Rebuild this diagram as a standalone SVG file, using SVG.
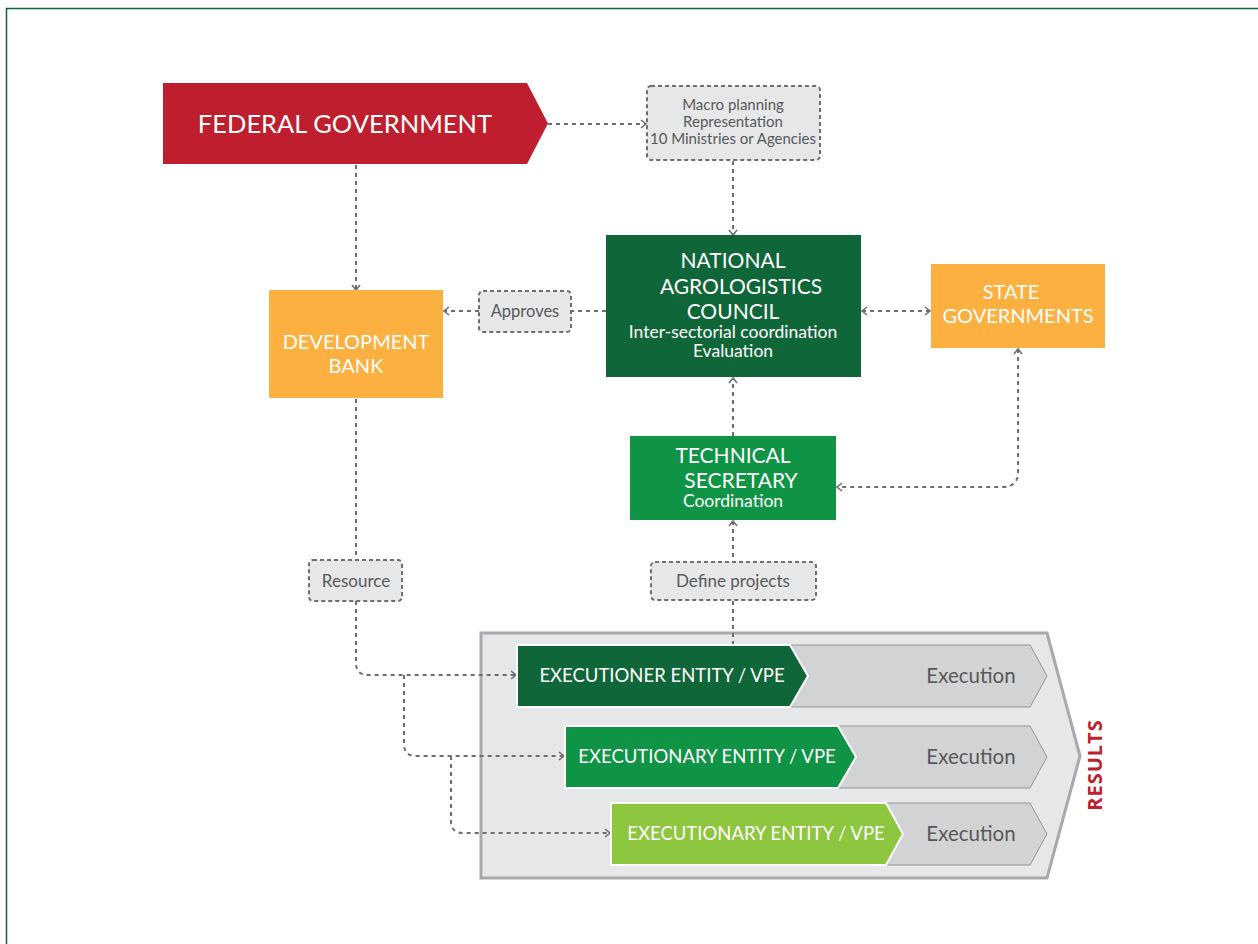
<svg xmlns="http://www.w3.org/2000/svg" width="1258" height="944" viewBox="0 0 1258 944">
<defs>
<marker id="ah" viewBox="0 0 10 10" refX="9" refY="5" markerWidth="10" markerHeight="10" markerUnits="userSpaceOnUse" orient="auto-start-reverse">
<path d="M4,1 L9,5 L4,9" fill="none" stroke="#6d6e71" stroke-width="1.6"/>
</marker>
<style>
.t{font-family:Lato,"Open Sans","Liberation Sans",sans-serif;fill:#fff;text-anchor:middle}
.g{font-family:Lato,"Open Sans","Liberation Sans",sans-serif;fill:#58595b;text-anchor:middle}
.c{fill:none;stroke:#6d6e71;stroke-width:2;stroke-dasharray:4 4}
.lbl{fill:#e6e7e8;stroke:#6d6e71;stroke-width:2;stroke-dasharray:4 3}
.gr{fill:#d1d3d4;stroke:#939598;stroke-width:1}
.ent{stroke:#fff;stroke-width:2}
</style>
</defs>
<rect x="6.5" y="8.5" width="1260" height="960" fill="#fff" stroke="#0f6638" stroke-width="1.5"/>

<g id="results">
<polygon points="481,633 1047,633 1080,756 1047,878 481,878" fill="#e6e7e8" stroke="#a7a9ac" stroke-width="3"/>
<text x="1097" y="765" transform="rotate(-90 1097 765)" style="font-family:'Open Sans','Liberation Sans',sans-serif;font-weight:bold;font-size:20px;fill:#be1e2d;text-anchor:middle;dominant-baseline:middle;letter-spacing:1px">RESULTS</text>
</g>

<g id="connectors">
<line class="c" x1="548" y1="124" x2="646" y2="124" marker-end="url(#ah)"/>
<line class="c" x1="733" y1="161" x2="733" y2="235" marker-end="url(#ah)"/>
<line class="c" x1="356" y1="165" x2="356" y2="290" marker-end="url(#ah)"/>
<line class="c" x1="606" y1="311" x2="571" y2="311"/>
<line class="c" x1="479" y1="311" x2="444" y2="311" marker-end="url(#ah)"/>
<line class="c" x1="862" y1="311" x2="930" y2="311" marker-start="url(#ah)" marker-end="url(#ah)"/>
<path class="c" d="M1018,349 V472 Q1018,487 1003,487 H837" marker-start="url(#ah)" marker-end="url(#ah)"/>
<line class="c" x1="733" y1="436" x2="733" y2="378" marker-end="url(#ah)"/>
<line class="c" x1="733" y1="645" x2="733" y2="521" marker-end="url(#ah)"/>
<line class="c" x1="356" y1="399" x2="356" y2="560"/>
<path class="c" d="M356,601 V663 Q356,675 368,675 H516" marker-end="url(#ah)"/>
<path class="c" d="M404,675 V744 Q404,756 416,756 H564" marker-end="url(#ah)"/>
<path class="c" d="M451,756 V821 Q451,833 463,833 H610" marker-end="url(#ah)"/>
</g>

<g id="federal">
<polygon points="163,83 527,83 548,123.5 527,164 163,164" fill="#be1e2d"/>
<text class="t" x="345" y="133" style="font-size:25.5px">FEDERAL GOVERNMENT</text>
</g>

<g id="macro">
<rect class="lbl" x="647" y="86" width="173" height="74" rx="4"/>
<text class="g" x="733" y="110" style="font-size:15px">Macro planning</text>
<text class="g" x="733" y="127" style="font-size:15px">Representation</text>
<text class="g" x="733" y="144" style="font-size:15px">10 Ministries or Agencies</text>
</g>

<g id="council">
<rect x="606" y="235" width="255" height="142" fill="#0f6638"/>
<text class="t" x="733" y="268" style="font-size:21px">NATIONAL</text>
<text class="t" x="741" y="294" style="font-size:21px">AGROLOGISTICS</text>
<text class="t" x="733" y="319" style="font-size:21px">COUNCIL</text>
<text class="t" x="733" y="338" style="font-size:17.5px">Inter-sectorial coordination</text>
<text class="t" x="733" y="357" style="font-size:17.5px">Evaluation</text>
</g>

<g id="state">
<rect x="931" y="264" width="174" height="84" fill="#fbb040"/>
<text class="t" x="1011" y="299" style="font-size:20px">STATE</text>
<text class="t" x="1018" y="323" style="font-size:20px">GOVERNMENTS</text>
</g>

<g id="devbank">
<rect x="269" y="290" width="174" height="108" fill="#fbb040"/>
<text class="t" x="356" y="349" style="font-size:20px">DEVELOPMENT</text>
<text class="t" x="356" y="373" style="font-size:20px">BANK</text>
</g>

<g id="approves">
<rect class="lbl" x="479" y="291" width="92" height="41" rx="4"/>
<text class="g" x="525" y="317" style="font-size:16.5px">Approves</text>
</g>

<g id="techsec">
<rect x="630" y="436" width="206" height="84" fill="#0f9345"/>
<text class="t" x="733" y="463" style="font-size:21px">TECHNICAL</text>
<text class="t" x="741" y="488" style="font-size:21px">SECRETARY</text>
<text class="t" x="733" y="507" style="font-size:17.5px">Coordination</text>
</g>

<g id="resource">
<rect class="lbl" x="309" y="560" width="93" height="41" rx="4"/>
<text class="g" x="356" y="587" style="font-size:17px">Resource</text>
</g>

<g id="define">
<rect class="lbl" x="651" y="562" width="165" height="38" rx="4"/>
<text class="g" x="733" y="587" style="font-size:17px">Define projects</text>
</g>

<g id="exec1">
<polygon class="gr" points="780,645 1030,645 1047,676 1030,707 780,707"/>
<polygon class="ent" points="517,645 790,645 808,676 790,707 517,707" fill="#0f6638"/>
<text class="t" x="662" y="682" style="font-size:18.5px">EXECUTIONER ENTITY / VPE</text>
<text class="g" x="971" y="683" style="font-size:20.5px">Execution</text>
</g>

<g id="exec2">
<polygon class="gr" points="828,726 1030,726 1047,757 1030,788 828,788"/>
<polygon class="ent" points="565,726 838,726 856,757 838,788 565,788" fill="#0f9345"/>
<text class="t" x="707" y="763" style="font-size:18.5px">EXECUTIONARY ENTITY / VPE</text>
<text class="g" x="971" y="764" style="font-size:20.5px">Execution</text>
</g>

<g id="exec3">
<polygon class="gr" points="876,803 1030,803 1047,834 1030,865 876,865"/>
<polygon class="ent" points="611,803 886,803 903,834 886,865 611,865" fill="#8dc63f"/>
<text class="t" x="756" y="840" style="font-size:18.5px">EXECUTIONARY ENTITY / VPE</text>
<text class="g" x="971" y="841" style="font-size:20.5px">Execution</text>
</g>
</svg>
